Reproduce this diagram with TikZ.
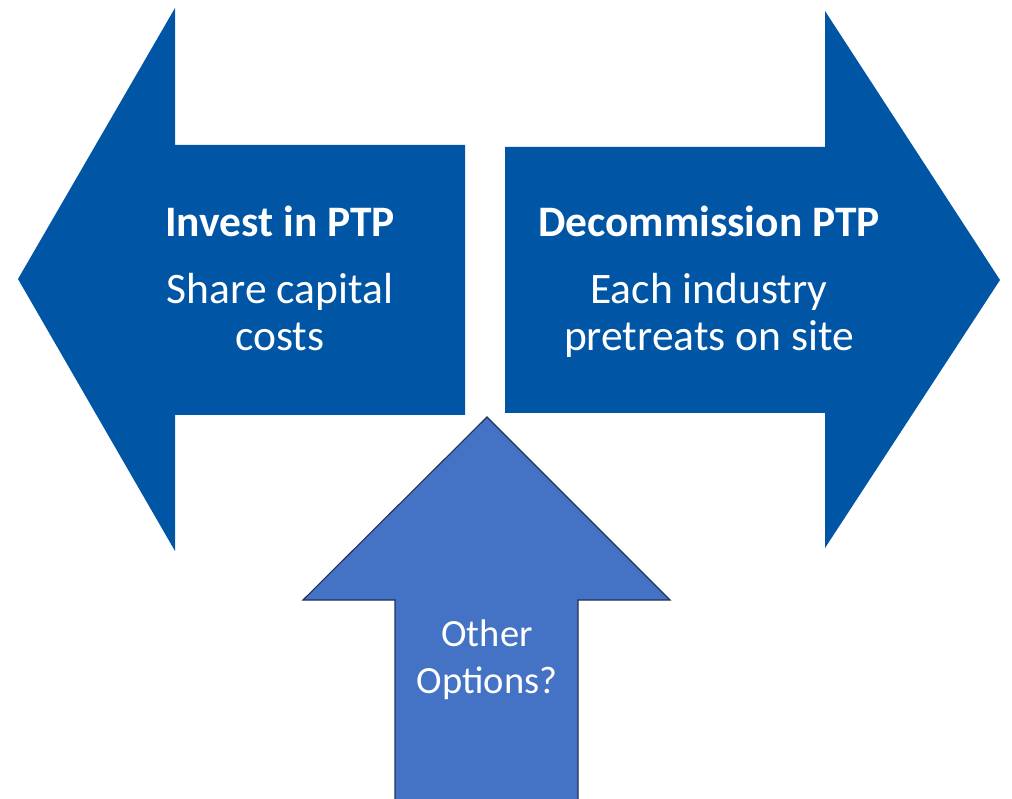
\documentclass[tikz,border=0pt]{standalone}
\usepackage{fontspec}
\setmainfont{Carlito}
\definecolor{darkblue}{RGB}{0,85,165}
\definecolor{midblue}{RGB}{68,114,196}
\definecolor{navyline}{RGB}{32,50,90}
\tikzset{
  bigarrow/.style={fill=darkblue, draw=none},
  uparrowfill/.style={fill=midblue, draw=none},
  uparrowline/.style={draw=navyline, line width=1.1pt, line join=miter},
  headtext/.style={text=white, font=\fontsize{43.5}{48}\selectfont\bfseries, anchor=base, inner sep=0pt},
  bodytext/.style={text=white, font=\fontsize{43.5}{48}\selectfont, anchor=base, inner sep=0pt},
  optext/.style={text=white, font=\fontsize{38.5}{46}\selectfont, anchor=base, inner sep=0pt}
}
\begin{document}
\begin{tikzpicture}[x=1pt,y=-1pt]
\useasboundingbox (0,0) rectangle (1012,799);
\clip (0,0) rectangle (1012,799);
% left arrow
\path[bigarrow] (18,279) -- (175,8) -- (175,145) -- (465,145) -- (465,415) -- (175,415) -- (175,551) -- cycle;
% right arrow
\path[bigarrow] (1000,280) -- (825,11) -- (825,147) -- (505,147) -- (505,413) -- (825,413) -- (825,548) -- cycle;
% up arrow
\path[uparrowfill] (487,417) -- (670,600) -- (578,600) -- (578,805) -- (395,805) -- (395,600) -- (303,600) -- cycle;
\draw[uparrowline] (395,805) -- (395,600) -- (303,600) -- (487,417) -- (670,600) -- (578,600) -- (578,805);
% texts
\node[headtext] (invest) at (280,237) {Invest in PTP};
\node[bodytext] (share) at (280,304) {Share capital};
\node[bodytext] (costs) at (280,351) {costs};
\node[headtext] (decom) at (709,237) {Decommission PTP};
\node[bodytext] (each) at (709,304) {Each industry};
\node[bodytext] (pret) at (709,351) {pretreats on site};
\node[optext] (other) at (487,646) {Other};
\node[optext] (options) at (487,693) {Options?};
\end{tikzpicture}
\end{document}
